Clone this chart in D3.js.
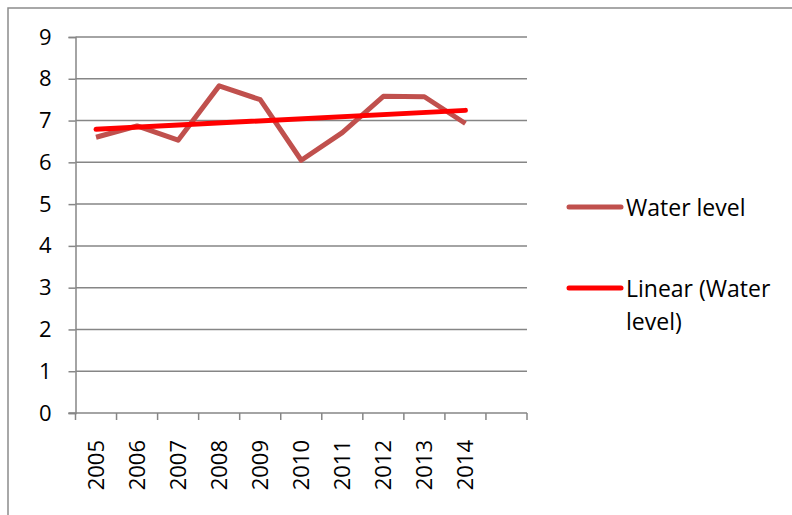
<!DOCTYPE html>
<html>
<head>
<meta charset="utf-8">
<script src="https://cdn.jsdelivr.net/npm/d3@7"></script>
<style>
	body { margin: 0; background: #fff; }
	text { font-family: "Open Sans", sans-serif; fill: #000; }
</style>
</head>
<body>
<div id="chart"></div>
<script>
//Water level chart with linear trend
var years = ["2005", "2006", "2007", "2008", "2009", "2010", "2011", "2012", "2013", "2014", ""];
var waterLevel = [6.60, 6.87, 6.53, 7.83, 7.50, 6.05, 6.71, 7.58, 7.57, 6.93];
var yTicks = [0, 1, 2, 3, 4, 5, 6, 7, 8, 9];
var seriesNames = ["Water level", "Linear (Water level)"];

(function() {
	"use strict";
	var W = 792, H = 515,
		left = 75.5, right = 527, top = 37, bottom = 413;

	var svg = d3.select("#chart").append("svg")
		.attr("width", W)
		.attr("height", H);

	// outer chart border (runs off the bottom and right)
	svg.append("rect")
		.attr("x", 8).attr("y", 8)
		.attr("width", 900).attr("height", 600)
		.attr("fill", "none")
		.attr("stroke", "#8c8c8c")
		.attr("stroke-width", 1.5);

	var x = d3.scaleBand().domain(years).range([left, right]);
	var y = d3.scaleLinear().domain([0, 9]).range([bottom, top]);

	// gridlines
	svg.append("g").selectAll("line").data(yTicks.filter(function(t) { return t > 0; }))
		.enter().append("line")
		.attr("x1", left).attr("x2", right)
		.attr("y1", function(t) { return y(t); })
		.attr("y2", function(t) { return y(t); })
		.attr("stroke", "#868686")
		.attr("stroke-width", 1.5);

	var yAxis = svg.append("g")
		.attr("transform", "translate(" + left + ",0)")
		.call(d3.axisLeft(y).tickValues(yTicks).tickSize(7).tickPadding(17).tickFormat(d3.format("d")));
	yAxis.select(".domain").attr("stroke", "#868686").attr("stroke-width", 1.5);
	yAxis.selectAll(".tick line").attr("stroke", "#868686").attr("stroke-width", 1.5);
	yAxis.selectAll("text").attr("font-size", 22).attr("font-family", "Open Sans").attr("fill", "#000");

	// x axis: ticks on band edges
	var edges = years.map(function(d) { return x(d); }).concat([right]);
	var xg = svg.append("g");
	xg.append("line")
		.attr("x1", left - 7).attr("x2", right)
		.attr("y1", bottom).attr("y2", bottom)
		.attr("stroke", "#868686").attr("stroke-width", 1.5);
	xg.selectAll("line.tk").data(edges).enter().append("line")
		.attr("class", "tk")
		.attr("x1", function(e) { return e; }).attr("x2", function(e) { return e; })
		.attr("y1", bottom).attr("y2", bottom + 7)
		.attr("stroke", "#868686").attr("stroke-width", 1.5);
	xg.selectAll("text").data(years).enter().append("text")
		.attr("transform", function(d) {
			return "translate(" + (x(d) + x.bandwidth() / 2) + "," + 440 + ") rotate(-90)";
		})
		.attr("text-anchor", "end")
		.attr("dy", "0.36em")
		.attr("font-size", 22)
		.text(function(d) { return d; });

	var cx = function(d, i) { return x(years[i]) + x.bandwidth() / 2; };

	// water level series
	var line = d3.line().x(cx).y(function(d) { return y(d); });
	svg.append("path")
		.datum(waterLevel)
		.attr("d", line)
		.attr("fill", "none")
		.attr("stroke", "#c0504d")
		.attr("stroke-width", 5)
		.attr("stroke-linejoin", "round");

	// least squares trend
	var n = waterLevel.length,
		mx = d3.mean(waterLevel, function(d, i) { return i; }),
		my = d3.mean(waterLevel),
		sxy = d3.sum(waterLevel, function(d, i) { return (i - mx) * (d - my); }),
		sxx = d3.sum(waterLevel, function(d, i) { return (i - mx) * (i - mx); }),
		slope = sxy / sxx,
		icpt = my - slope * mx;
	var trend = [0, n - 1].map(function(i) { return { i: i, v: icpt + slope * i }; });
	svg.append("path")
		.datum(trend)
		.attr("d", d3.line()
			.x(function(d) { return cx(null, d.i); })
			.y(function(d) { return y(d.v); }))
		.attr("fill", "none")
		.attr("stroke", "#ff0000")
		.attr("stroke-width", 5)
		.attr("stroke-linecap", "round");

	// legend
	var lg = svg.append("g");
	lg.append("line")
		.attr("x1", 569).attr("x2", 621).attr("y1", 207).attr("y2", 207)
		.attr("stroke", "#c0504d").attr("stroke-width", 5).attr("stroke-linecap", "round");
	lg.append("text").attr("x", 626).attr("y", 216).attr("font-size", 23).text(seriesNames[0]);
	lg.append("line")
		.attr("x1", 569).attr("x2", 621).attr("y1", 288).attr("y2", 288)
		.attr("stroke", "#ff0000").attr("stroke-width", 5).attr("stroke-linecap", "round");
	var t2 = lg.append("text").attr("x", 626).attr("y", 297).attr("font-size", 23);
	t2.append("tspan").attr("x", 626).text("Linear (Water");
	t2.append("tspan").attr("x", 626).attr("dy", 32.5).text("level)");
}());
</script>
</body>
</html>
